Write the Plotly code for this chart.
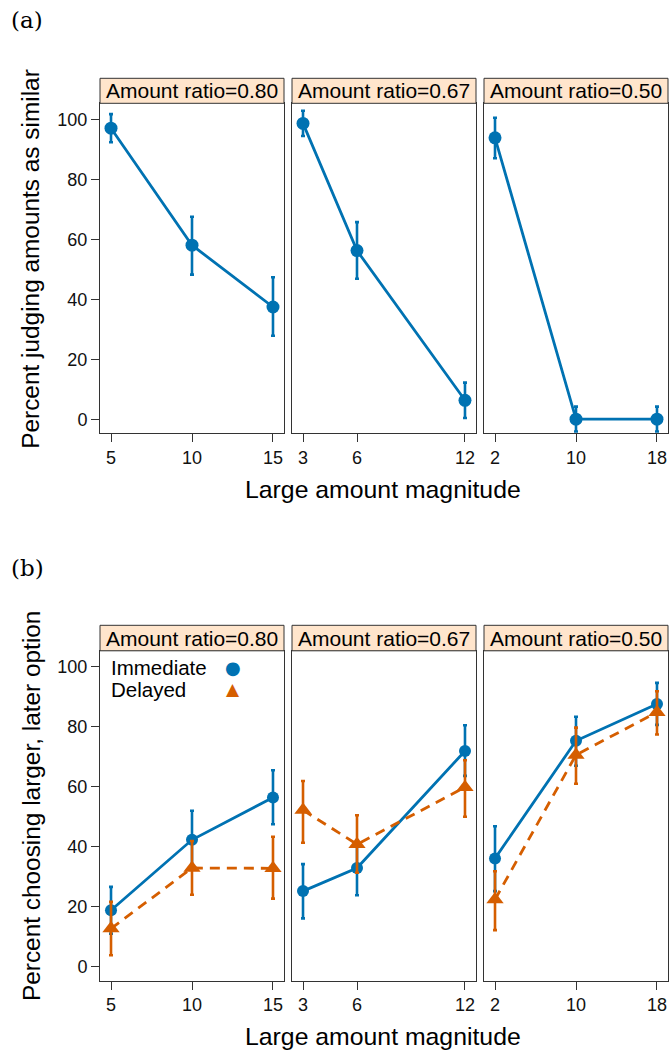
import plotly.graph_objects as go

W, H = 669, 1053

# ---------------- data ----------------
ratio_labels = ["Amount ratio=0.80", "Amount ratio=0.67", "Amount ratio=0.50"]
magnitudes = [[5, 10, 15], [3, 6, 12], [2, 10, 18]]
y_ticks = [0, 20, 40, 60, 80, 100]

# (a) percent judging amounts as similar
sim_mean = [[97.0, 58.0, 37.4], [98.6, 56.2, 6.3], [93.8, 0.0, 0.0]]
sim_lo = [[92.3, 48.2, 27.8], [94.4, 46.8, 0.4], [87.0, -4.1, -4.1]]
sim_hi = [[101.7, 67.5, 47.3], [102.8, 65.7, 12.2], [100.5, 4.2, 4.2]]

# (b) percent choosing larger, later option
imm_mean = [[18.8, 42.3, 56.4], [25.2, 32.9, 71.9], [36.1, 75.3, 87.6]]
imm_lo = [[11.0, 32.7, 47.5], [16.1, 23.8, 63.6], [25.2, 67.0, 80.6]]
imm_hi = [[26.6, 52.0, 65.5], [34.2, 42.0, 80.5], [46.8, 83.3, 94.6]]

del_mean = [[12.7, 32.9, 32.8], [52.2, 40.8, 59.8], [22.4, 70.6, 84.8]]
del_lo = [[3.8, 24.0, 22.7], [41.3, 31.3, 50.0], [12.2, 61.0, 77.4]]
del_hi = [[21.6, 41.9, 43.3], [61.9, 50.5, 68.8], [31.8, 79.7, 91.8]]

series_names = ["Immediate", "Delayed"]

# ---------------- style ----------------
BLUE = "#0072B2"
ORANGE = "#D55E00"
STRIP = "#FFE5CC"
AX = "#333333"
SANS = "Liberation Sans, Arial, sans-serif"
SERIF = "DejaVu Serif, serif"

panel_x = [(100, 284), (292, 476), (484, 668)]
parts = [
    dict(strip_top=78.3, plot_top=103.3, plot_bot=433.3, label="(a)", label_y=20,
         xtitle_y=489, ytitle="Percent judging amounts as similar"),
    dict(strip_top=625.3, plot_top=650.8, plot_bot=980.8, label="(b)", label_y=568,
         xtitle_y=1036.5, ytitle="Percent choosing larger, later option"),
]
YR = [-4.7, 105.3]


def fx(p):
    return p / W


def fy(p):
    return 1 - p / H


fig = go.Figure()
layout = dict(
    width=W, height=H, margin=dict(l=0, r=0, t=0, b=0, autoexpand=False),
    paper_bgcolor="white", plot_bgcolor="white", showlegend=False,
    font=dict(family=SANS, color="black"), template="none",
)
shapes = []
annotations = []


def err(mean, lo, hi, color):
    return dict(type="data", symmetric=False,
                array=[h - m for m, h in zip(mean, hi)],
                arrayminus=[m - l for m, l in zip(mean, lo)],
                color=color, thickness=2.6, width=2)


idx = 0
for pi, part in enumerate(parts):
    for ci in range(3):
        idx += 1
        xa = "xaxis" if idx == 1 else f"xaxis{idx}"
        ya = "yaxis" if idx == 1 else f"yaxis{idx}"
        xr = "x" if idx == 1 else f"x{idx}"
        yr = "y" if idx == 1 else f"y{idx}"
        mags = magnitudes[ci]
        pad = (max(mags) - min(mags)) * 0.068
        x0p, x1p = panel_x[ci]
        layout[xa] = dict(
            domain=[fx(x0p), fx(x1p)], anchor=yr, range=[min(mags) - pad, max(mags) + pad],
            tickmode="array", tickvals=mags, ticktext=[str(m) for m in mags],
            ticks="outside", ticklen=8, tickwidth=1, tickcolor=AX,
            showline=True, linecolor=AX, linewidth=1, mirror=True,
            showgrid=False, zeroline=False, automargin=False,
            tickfont=dict(size=18, family=SANS, color="#111"),
        )
        layout[ya] = dict(
            domain=[fy(part["plot_bot"]), fy(part["plot_top"])], anchor=xr, range=YR,
            showline=True, linecolor=AX, linewidth=1, mirror=True,
            showgrid=False, zeroline=False, automargin=False,
            tickmode="array", tickvals=y_ticks,
            ticks="outside" if ci == 0 else "", ticklen=8, tickwidth=1, tickcolor=AX,
            showticklabels=(ci == 0),
            tickfont=dict(size=18, family=SANS, color="#111"),
        )
        shapes.append(dict(type="rect", xref="paper", yref="paper",
                           x0=fx(x0p), x1=fx(x1p), y0=fy(part["plot_top"]), y1=fy(part["strip_top"]),
                           fillcolor=STRIP, line=dict(color=AX, width=1), layer="above"))
        annotations.append(dict(xref="paper", yref="paper", x=fx((x0p + x1p) / 2),
                                y=fy((part["strip_top"] + part["plot_top"]) / 2),
                                text=ratio_labels[ci], showarrow=False,
                                xanchor="center", yanchor="middle",
                                font=dict(size=21, family=SANS, color="black")))
        if pi == 0:
            fig.add_trace(go.Scatter(
                x=mags, y=sim_mean[ci], xaxis=xr, yaxis=yr, mode="lines+markers",
                line=dict(color=BLUE, width=2.8),
                marker=dict(symbol="circle", size=13, color=BLUE),
                error_y=err(sim_mean[ci], sim_lo[ci], sim_hi[ci], BLUE),
                hoverinfo="skip"))
        else:
            fig.add_trace(go.Scatter(
                x=mags, y=imm_mean[ci], xaxis=xr, yaxis=yr, mode="lines+markers",
                name=series_names[0],
                line=dict(color=BLUE, width=2.8),
                marker=dict(symbol="circle", size=12, color=BLUE),
                error_y=err(imm_mean[ci], imm_lo[ci], imm_hi[ci], BLUE),
                hoverinfo="skip"))
            fig.add_trace(go.Scatter(
                x=mags, y=del_mean[ci], xaxis=xr, yaxis=yr, mode="lines+markers",
                name=series_names[1],
                line=dict(color=ORANGE, width=2.8, dash="10px,7px"),
                marker=dict(symbol="triangle-up", size=15, color=ORANGE),
                error_y=err(del_mean[ci], del_lo[ci], del_hi[ci], ORANGE),
                hoverinfo="skip"))
        if ci == 2:
            ridx = 6 + pi + 1
            rya = f"yaxis{ridx}"
            layout[rya] = dict(overlaying=yr, side="right", anchor=xr, range=YR,
                               tickmode="array", tickvals=y_ticks, ticks="outside",
                               ticklen=8, tickcolor=AX, showticklabels=False,
                               showline=False, showgrid=False, zeroline=False,
                               automargin=False)
            fig.add_trace(go.Scatter(x=[None], y=[None], xaxis=xr, yaxis=f"y{ridx}",
                                     mode="markers", hoverinfo="skip"))

    annotations.append(dict(xref="paper", yref="paper", x=fx(383), y=fy(part["xtitle_y"]),
                            text="Large amount magnitude", showarrow=False,
                            xanchor="center", yanchor="middle",
                            font=dict(size=24.8, family=SANS, color="black")))
    annotations.append(dict(xref="paper", yref="paper", x=fx(31),
                            y=fy((part["strip_top"] + part["plot_bot"]) / 2 + 3),
                            text=part["ytitle"], showarrow=False, textangle=-90,
                            xanchor="center", yanchor="middle",
                            font=dict(size=24.4, family=SANS, color="black")))
    annotations.append(dict(xref="paper", yref="paper", x=fx(27), y=fy(part["label_y"]),
                            text=part["label"], showarrow=False,
                            xanchor="center", yanchor="middle",
                            font=dict(size=23, family=SERIF, color="black")))

leg_rows = [(series_names[0], "●", BLUE, 667, 18), (series_names[1], "▲", ORANGE, 689, 17)]
for name, glyph, col, yy, gs in leg_rows:
    annotations.append(dict(xref="paper", yref="paper", x=fx(109), y=fy(yy),
                            text=name, showarrow=False, xanchor="left", yanchor="middle",
                            font=dict(size=20.5, family=SANS, color="black")))
    annotations.append(dict(xref="paper", yref="paper", x=fx(232.5), y=fy(yy),
                            text=glyph, showarrow=False, xanchor="center", yanchor="middle",
                            font=dict(size=gs, family="DejaVu Sans", color=col)))

layout["shapes"] = shapes
layout["annotations"] = annotations
fig.update_layout(**layout)
fig.write_html("out.html")
